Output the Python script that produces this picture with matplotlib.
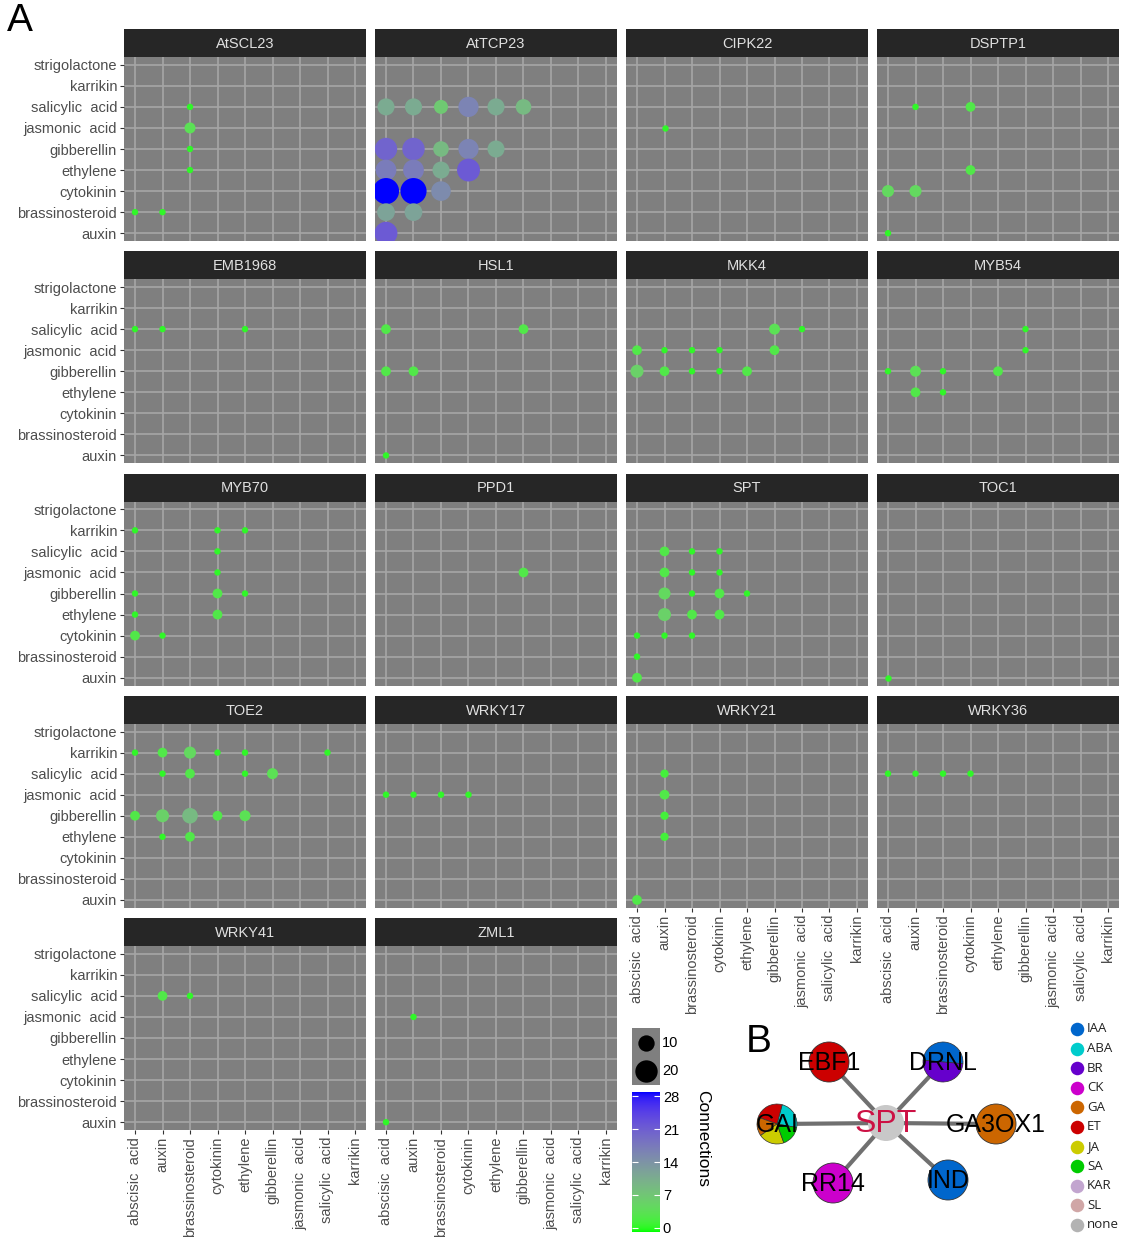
import numpy as np
import matplotlib
matplotlib.use('Agg')
import matplotlib.pyplot as plt
from matplotlib.colors import ListedColormap
from matplotlib.patches import Circle, Wedge

plt.rcParams['font.family'] = ['Liberation Sans', 'DejaVu Sans']

# ---- data -------------------------------------------------------------
x_codes = ['ABA', 'IAA', 'BR', 'CK', 'ET', 'GA', 'JA', 'SA', 'KAR']
x_labels = ['abscisic  acid', 'auxin', 'brassinosteroid', 'cytokinin', 'ethylene',
            'gibberellin', 'jasmonic  acid', 'salicylic  acid', 'karrikin']
y_codes = ['IAA', 'BR', 'CK', 'ET', 'GA', 'JA', 'SA', 'KAR', 'SL']
y_labels = ['auxin', 'brassinosteroid', 'cytokinin', 'ethylene', 'gibberellin',
            'jasmonic  acid', 'salicylic  acid', 'karrikin', 'strigolactone']

# (x hormone, y hormone, connections)
atscl23 = [('BR', 'SA', 1), ('BR', 'JA', 4), ('BR', 'GA', 1), ('BR', 'ET', 1),
           ('ABA', 'BR', 1), ('IAA', 'BR', 1)]
attcp23 = [('ABA', 'SA', 11), ('IAA', 'SA', 11), ('BR', 'SA', 7), ('CK', 'SA', 16),
           ('ET', 'SA', 11), ('GA', 'SA', 9),
           ('ABA', 'GA', 20), ('IAA', 'GA', 20), ('BR', 'GA', 9), ('CK', 'GA', 16),
           ('ET', 'GA', 11),
           ('ABA', 'ET', 17), ('IAA', 'ET', 17), ('BR', 'ET', 11), ('CK', 'ET', 21),
           ('ABA', 'CK', 28), ('IAA', 'CK', 28), ('BR', 'CK', 15),
           ('ABA', 'BR', 12), ('IAA', 'BR', 12), ('ABA', 'IAA', 21)]
cipk22 = [('IAA', 'JA', 1)]
dsptp1 = [('IAA', 'SA', 1), ('CK', 'SA', 3), ('CK', 'ET', 3), ('ABA', 'CK', 5),
          ('IAA', 'CK', 5), ('ABA', 'IAA', 1)]
emb1968 = [('ABA', 'SA', 1), ('IAA', 'SA', 1), ('ET', 'SA', 1)]
hsl1 = [('ABA', 'SA', 3), ('GA', 'SA', 3), ('ABA', 'GA', 3), ('IAA', 'GA', 3),
        ('ABA', 'IAA', 1)]
mkk4 = [('GA', 'SA', 4), ('JA', 'SA', 1),
        ('ABA', 'JA', 3), ('IAA', 'JA', 1), ('BR', 'JA', 1), ('CK', 'JA', 1), ('GA', 'JA', 3),
        ('ABA', 'GA', 6), ('IAA', 'GA', 3), ('BR', 'GA', 1), ('CK', 'GA', 1), ('ET', 'GA', 3)]
myb54 = [('GA', 'SA', 1), ('GA', 'JA', 1), ('ABA', 'GA', 1), ('IAA', 'GA', 4),
         ('BR', 'GA', 1), ('ET', 'GA', 3), ('IAA', 'ET', 3), ('BR', 'ET', 1)]
myb70 = [('ABA', 'KAR', 1), ('CK', 'KAR', 1), ('ET', 'KAR', 1), ('CK', 'SA', 1),
         ('CK', 'JA', 1), ('ABA', 'GA', 1), ('CK', 'GA', 3), ('ET', 'GA', 1),
         ('ABA', 'ET', 1), ('CK', 'ET', 3), ('ABA', 'CK', 3), ('IAA', 'CK', 1)]
ppd1 = [('GA', 'JA', 3)]
spt = [('IAA', 'SA', 3), ('BR', 'SA', 1), ('CK', 'SA', 1),
       ('IAA', 'JA', 3), ('BR', 'JA', 1), ('CK', 'JA', 1),
       ('IAA', 'GA', 5), ('BR', 'GA', 1), ('CK', 'GA', 3), ('ET', 'GA', 1),
       ('IAA', 'ET', 6), ('BR', 'ET', 3), ('CK', 'ET', 3),
       ('ABA', 'CK', 1), ('IAA', 'CK', 1), ('BR', 'CK', 1),
       ('ABA', 'BR', 1), ('ABA', 'IAA', 3)]
toc1 = [('ABA', 'IAA', 1)]
toe2 = [('ABA', 'KAR', 1), ('IAA', 'KAR', 3), ('BR', 'KAR', 5), ('CK', 'KAR', 1),
        ('ET', 'KAR', 1), ('SA', 'KAR', 1),
        ('IAA', 'SA', 1), ('BR', 'SA', 3), ('ET', 'SA', 1), ('GA', 'SA', 4),
        ('ABA', 'GA', 3), ('IAA', 'GA', 6), ('BR', 'GA', 9), ('CK', 'GA', 3), ('ET', 'GA', 4),
        ('IAA', 'ET', 1), ('BR', 'ET', 3)]
wrky17 = [('ABA', 'JA', 1), ('IAA', 'JA', 1), ('BR', 'JA', 1), ('CK', 'JA', 1)]
wrky21 = [('IAA', 'SA', 2), ('IAA', 'JA', 3), ('IAA', 'GA', 2), ('IAA', 'ET', 2),
          ('ABA', 'IAA', 3)]
wrky36 = [('ABA', 'SA', 1), ('IAA', 'SA', 1), ('BR', 'SA', 1), ('CK', 'SA', 1)]
wrky41 = [('IAA', 'SA', 3), ('BR', 'SA', 1)]
zml1 = [('IAA', 'JA', 1), ('ABA', 'IAA', 1)]

genes = ['AtSCL23', 'AtTCP23', 'CIPK22', 'DSPTP1', 'EMB1968', 'HSL1', 'MKK4', 'MYB54',
         'MYB70', 'PPD1', 'SPT', 'TOC1', 'TOE2', 'WRKY17', 'WRKY21', 'WRKY36',
         'WRKY41', 'ZML1']
gene_points = [atscl23, attcp23, cipk22, dsptp1, emb1968, hsl1, mkk4, myb54,
               myb70, ppd1, spt, toc1, toe2, wrky17, wrky21, wrky36, wrky41, zml1]

size_breaks = [10, 20]
color_breaks = [0, 7, 14, 21, 28]

# panel B network
node_names = ['SPT', 'EBF1', 'DRNL', 'GAI', 'GA3OX1', 'RR14', 'IND']
node_x = [886, 829, 943, 777, 996, 833, 948]
node_y = [1123, 1062, 1062, 1124, 1124, 1183, 1180]
node_hormones = [['none'], ['ET'], ['IAA', 'BR'], ['ABA', 'ET', 'GA', 'JA', 'SA'],
                 ['GA'], ['CK'], ['IAA']]
node_shares = [[1], [1], [180, 180], [85, 85, 55, 75, 60], [1], [1], [1]]
node_start = [0, 0, -5, -10, 0, 0, 0]

hormone_names = ['IAA', 'ABA', 'BR', 'CK', 'GA', 'ET', 'JA', 'SA', 'KAR', 'SL', 'none']
hormone_colors = ['#0066cc', '#00cccc', '#6600cc', '#cc00cc', '#cc6600', '#cc0000',
                  '#cccc00', '#00cc00', '#c2a5cf', '#d0a6a6', '#b3b3b3']


# ---- colour scale: green -> blue interpolated in Lab (like ggplot) ------
M = np.array([[0.4124, 0.3576, 0.1805], [0.2126, 0.7152, 0.0722], [0.0193, 0.1192, 0.9505]])
WHITE = np.array([0.95047, 1.0, 1.08883])


def to_lab(rgb):
    rgb = np.asarray(rgb, float)
    lin = np.where(rgb <= 0.04045, rgb / 12.92, ((rgb + 0.055) / 1.055) ** 2.4)
    xyz = M @ lin / WHITE
    f = np.where(xyz > 0.008856, np.cbrt(xyz), 7.787 * xyz + 16 / 116)
    return np.array([116 * f[1] - 16, 500 * (f[0] - f[1]), 200 * (f[1] - f[2])])


def from_lab(lab):
    L, a, b = lab
    fy = (L + 16) / 116
    f = np.array([fy + a / 500, fy, fy - b / 200])
    xyz = np.where(f ** 3 > 0.008856, f ** 3, (f - 16 / 116) / 7.787) * WHITE
    lin = np.clip(np.linalg.inv(M) @ xyz, 0, 1)
    rgb = np.where(lin <= 0.0031308, 12.92 * lin, 1.055 * lin ** (1 / 2.4) - 0.055)
    return np.clip(rgb, 0, 1)


lab_lo, lab_hi = to_lab([0, 1, 0]), to_lab([0, 0, 1])
cmap = ListedColormap([from_lab(lab_lo + t * (lab_hi - lab_lo)) for t in np.linspace(0, 1, 256)])
vmin, vmax = 0, 28


def marker_area(n):
    d_px = 4.6 * np.sqrt(n) + 1.8
    return (d_px * 0.72) ** 2


# ---- figure -------------------------------------------------------------
W, H = 1123, 1237
fig = plt.figure(figsize=(W / 100, H / 100), dpi=100)


def rect(x0, y0, w, h):
    return [x0 / W, 1 - (y0 + h) / H, w / W, h / H]


col_x = [124, 375, 626, 877]
panel_w, panel_h, strip_h = 242, 184, 28
n_rows = 5

for i, (gene, pts) in enumerate(zip(genes, gene_points)):
    r, c = divmod(i, 4)
    top = 29 + 222.25 * r
    sax = fig.add_axes(rect(col_x[c], top, panel_w, strip_h))
    sax.set_facecolor('#262626')
    sax.set_xticks([])
    sax.set_yticks([])
    for s in sax.spines.values():
        s.set_visible(False)
    sax.text(0.5, 0.47, gene, ha='center', va='center', color='#e0e0e0', fontsize=10.5,
             transform=sax.transAxes)

    ax = fig.add_axes(rect(col_x[c], top + strip_h, panel_w, panel_h))
    ax.set_facecolor('#7f7f7f')
    for s in ax.spines.values():
        s.set_visible(False)
    ax.set_axisbelow(True)
    ax.grid(True, color='#a6a6a6', linewidth=1.2)
    ax.set_xlim(-0.4, 8.4)
    ax.set_ylim(-0.37, 8.37)
    ax.set_xticks(range(9))
    ax.set_yticks(range(9))

    xs = [x_codes.index(p[0]) for p in pts]
    ys = [y_codes.index(p[1]) for p in pts]
    ns = np.array([p[2] for p in pts])
    ax.scatter(xs, ys, s=marker_area(ns), c=ns, cmap=cmap, vmin=vmin, vmax=vmax,
               linewidths=0, zorder=3)

    ax.tick_params(length=3, width=0.8, color='#333333', labelsize=10.5,
                   labelcolor='#4d4d4d', pad=2)
    if c == 0:
        ax.set_yticklabels(y_labels)
    else:
        ax.tick_params(axis='y', left=False, labelleft=False)
    last_in_col = (r == n_rows - 1) or (r == n_rows - 2 and c >= 2)
    if last_in_col:
        ax.set_xticklabels(x_labels, rotation=90)
    else:
        ax.tick_params(axis='x', bottom=False, labelbottom=False)

# ---- legends --------------------------------------------------------------
lax = fig.add_axes(rect(632, 1028, 28, 57))
lax.set_facecolor('#7f7f7f')
lax.set_xlim(0, 1)
lax.set_ylim(0, 1)
lax.set_xticks([])
lax.set_yticks([])
for s in lax.spines.values():
    s.set_visible(False)
for v, yy in zip(size_breaks, [0.74, 0.25]):
    lax.scatter([0.5], [yy], s=marker_area(v), color='black', linewidths=0)
    lax.text(1.08, yy, str(v), ha='left', va='center', fontsize=10.5,
             transform=lax.transAxes)

cax = fig.add_axes(rect(632, 1092, 28, 140))
cax.imshow(np.linspace(vmin, vmax, 256)[:, None], origin='lower', aspect='auto',
           extent=[0, 1, -0.85, 28.85], cmap=cmap, vmin=vmin, vmax=vmax)
cax.set_xlim(0, 1)
cax.set_ylim(-0.85, 28.85)
cax.set_xticks([])
cax.set_yticks(color_breaks)
cax.yaxis.set_ticks_position('both')
cax.tick_params(axis='y', direction='in', length=4, width=0.8, color='white',
                labelleft=False, labelright=True, labelsize=10.5, pad=2)
for s in cax.spines.values():
    s.set_visible(False)
fig.text(703 / W, 1 - 1090 / H, 'Connections', rotation=270, ha='center', va='top',
         fontsize=12.5)

# ---- panel labels ---------------------------------------------------------
fig.text(7 / W, 1 - 3 / H, 'A', ha='left', va='top', fontsize=28)
fig.text(746 / W, 1 - 1024 / H, 'B', ha='left', va='top', fontsize=28)

# ---- panel B network ------------------------------------------------------
nax = fig.add_axes([0, 0, 1, 1])
nax.set_xlim(0, W)
nax.set_ylim(H, 0)
nax.axis('off')

hcol = dict(zip(hormone_names, hormone_colors))
for k in range(1, len(node_names)):
    nax.plot([node_x[0], node_x[k]], [node_y[0], node_y[k]], color='#707070',
             linewidth=3, solid_capstyle='butt', zorder=1)

for k, name in enumerate(node_names):
    cx, cy = node_x[k], node_y[k]
    rad = 18 if k == 0 else 20
    hs, sh = node_hormones[k], node_shares[k]
    if len(hs) == 1:
        ec = 'none' if k == 0 else '#333333'
        nax.add_patch(Circle((cx, cy), rad, facecolor='#c8c8c8' if k == 0 else hcol[hs[0]],
                             edgecolor=ec, linewidth=0.6, zorder=2))
    else:
        a0 = node_start[k]
        tot = float(sum(sh))
        for h, v in zip(hs, sh):
            a1 = a0 + 360 * v / tot
            # y axis is inverted, so screen angles are negated
            nax.add_patch(Wedge((cx, cy), rad, -a1, -a0, facecolor=hcol[h],
                                edgecolor='#333333', linewidth=0.5, zorder=2))
            a0 = a1
    if k == 0:
        nax.text(cx, cy + 1, name, ha='center', va='center', fontsize=23,
                 color='#cc1144', zorder=3)
    else:
        nax.text(cx, cy + 1, name, ha='center', va='center', fontsize=18,
                 color='black', zorder=3)

for j, (h, col) in enumerate(zip(hormone_names, hormone_colors)):
    yy = 1029 + 19.6 * j
    nax.scatter([1077], [yy], s=95, color=col, linewidths=0, zorder=3)
    nax.text(1087, yy, h, ha='left', va='center', fontsize=9.5, family='Open Sans',
             color='#222222')

fig.savefig('out.png', dpi=100)
